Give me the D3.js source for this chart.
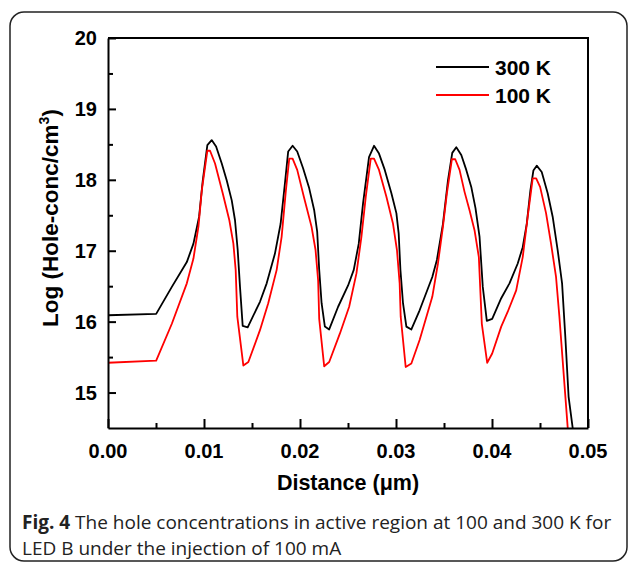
<!DOCTYPE html>
<html>
<head>
<meta charset="utf-8">
<script src="https://cdn.jsdelivr.net/npm/d3@7"></script>
<style>
  body { margin: 0; background: #fff; }
  svg { display: block; }
</style>
</head>
<body>
<div id="chart"></div>
<script>
// distance (um) and log hole concentration
var x300 = [0.0000, 0.00502, 0.00665, 0.00821, 0.0089, 0.00949, 0.00987, 0.01035, 0.0108, 0.01126, 0.01185, 0.01237, 0.01289, 0.01323, 0.01351, 0.01375, 0.01403, 0.01455,
    0.01583, 0.01653, 0.01739, 0.01798, 0.01843, 0.01877, 0.01923, 0.01971, 0.02033, 0.02096, 0.02148, 0.02179, 0.022, 0.02225, 0.02259, 0.02304,
    0.02397, 0.02501, 0.0256, 0.02612, 0.02657, 0.02719, 0.02771, 0.02823, 0.02883, 0.02952, 0.03004, 0.03028, 0.03046, 0.03073, 0.03108, 0.0316,
    0.03246, 0.03378, 0.03426, 0.03489, 0.03541, 0.03586, 0.03628, 0.0368, 0.03732, 0.03784, 0.03828, 0.0387, 0.03904, 0.03946, 0.04002,
    0.04096, 0.04182, 0.04268, 0.0432, 0.04362, 0.044, 0.04431, 0.04466, 0.04518, 0.0458, 0.04632, 0.04684, 0.0473, 0.04764, 0.04798, 0.0486];
var y300 = [16.09, 16.11, 16.49, 16.84, 17.10, 17.48, 17.99, 18.49, 18.56, 18.47, 18.23, 17.99, 17.71, 17.43, 17.01, 16.49, 15.94, 15.92,
    16.28, 16.54, 16.96, 17.38, 17.95, 18.40, 18.48, 18.40, 18.16, 17.88, 17.57, 17.27, 16.73, 16.26, 15.93, 15.89,
    16.21, 16.51, 16.73, 17.10, 17.67, 18.32, 18.48, 18.37, 18.14, 17.81, 17.53, 17.24, 16.73, 16.26, 15.93, 15.89,
    16.16, 16.63, 16.87, 17.38, 17.99, 18.38, 18.46, 18.35, 18.14, 17.90, 17.60, 17.20, 16.49, 16.01, 16.04,
    16.33, 16.54, 16.82, 17.05, 17.38, 17.85, 18.13, 18.20, 18.11, 17.81, 17.48, 17.01, 16.54, 15.78, 14.94, 14.3];

var x100 = [0.0000, 0.00502, 0.00665, 0.00821, 0.0089, 0.00942, 0.00977, 0.01035, 0.01063, 0.01115, 0.01195, 0.01264, 0.01306, 0.0133, 0.01347, 0.0141, 0.01462,
    0.01583, 0.01669, 0.01757, 0.01809, 0.01853, 0.01888, 0.01923, 0.01971, 0.0204, 0.0212, 0.02162, 0.02189, 0.022, 0.02252, 0.02304,
    0.02415, 0.02512, 0.02588, 0.0264, 0.02685, 0.02737, 0.02771, 0.02823, 0.029, 0.02969, 0.0301, 0.03038, 0.03049, 0.03101, 0.0316,
    0.03246, 0.03378, 0.03437, 0.03489, 0.0353, 0.03582, 0.03617, 0.03662, 0.03714, 0.03766, 0.03818, 0.03863, 0.03894, 0.0395, 0.04002,
    0.04096, 0.04164, 0.04252, 0.0432, 0.04372, 0.04424, 0.0446, 0.04501, 0.04563, 0.04615, 0.04667, 0.04702, 0.04744, 0.048];
var y100 = [15.42, 15.45, 15.97, 16.54, 16.89, 17.34, 17.85, 18.41, 18.41, 18.23, 17.81, 17.43, 17.10, 16.73, 16.07, 15.38, 15.43,
    15.88, 16.26, 16.73, 17.20, 17.85, 18.30, 18.30, 18.14, 17.76, 17.34, 17.01, 16.58, 16.04, 15.37, 15.43,
    15.83, 16.21, 16.68, 17.20, 17.76, 18.30, 18.30, 18.14, 17.76, 17.38, 17.01, 16.54, 16.07, 15.36, 15.41,
    15.74, 16.35, 16.82, 17.34, 17.81, 18.29, 18.29, 18.14, 17.83, 17.57, 17.29, 16.91, 15.97, 15.42, 15.55,
    15.93, 16.14, 16.44, 16.91, 17.48, 18.02, 18.02, 17.90, 17.53, 17.10, 16.63, 16.07, 15.31, 14.3];

var xTicks = [0, 0.01, 0.02, 0.03, 0.04, 0.05];
var yTicks = [15, 16, 17, 18, 19, 20];
var seriesNames = ["300 K", "100 K"];
var seriesColors = ["#000000", "#ff0000"];

var width = 629, height = 563;
var margin = {top: 38, right: 41, bottom: 135, left: 108};

var svg = d3.select("#chart").append("svg")
    .attr("width", width)
    .attr("height", height);

// outer rounded frame of the figure
svg.append("rect")
    .attr("x", 10).attr("y", 12)
    .attr("width", 617).attr("height", 549)
    .attr("rx", 14)
    .attr("fill", "none")
    .attr("stroke", "#222")
    .attr("stroke-width", 1.5);

var x = d3.scaleLinear().domain([0, 0.05]).range([margin.left, width - margin.right]);
var y = d3.scaleLinear().domain([14.5, 20]).range([height - margin.bottom, margin.top]);

svg.append("clipPath").attr("id", "plotclip")
    .append("rect")
    .attr("x", x(0)).attr("y", y(20))
    .attr("width", x(0.05) - x(0)).attr("height", y(14.5) - y(20));

var line = d3.line()
    .x(function(d) { return x(d[0]); })
    .y(function(d) { return y(d[1]); });

var series = [d3.zip(x300, y300), d3.zip(x100, y100)];

svg.append("g").attr("clip-path", "url(#plotclip)")
    .selectAll("path")
    .data(series)
    .enter()
    .append("path")
    .attr("d", line)
    .attr("fill", "none")
    .attr("stroke", function(d, i) { return seriesColors[i]; })
    .attr("stroke-width", 1.8)
    .attr("stroke-linejoin", "round");

// axes, ticks pointing inwards
var xAxis = svg.append("g")
    .attr("transform", "translate(0," + y(14.5) + ")")
    .call(d3.axisBottom(x).tickValues(d3.range(0, 0.0501, 0.005)).tickSize(-9).tickSizeOuter(0).tickFormat(""));
xAxis.selectAll(".tick line")
    .attr("y2", function(d, i) { return i % 2 ? -5 : -9; });

var yAxis = svg.append("g")
    .attr("transform", "translate(" + x(0) + ",0)")
    .call(d3.axisLeft(y).tickValues(d3.range(15, 20.01, 0.5)).tickSize(-8).tickSizeOuter(0).tickFormat(""));
yAxis.selectAll(".tick line")
    .attr("x2", function(d, i) { return i % 2 ? 5 : 8; });

svg.selectAll(".domain, .tick line")
    .attr("stroke", "#000")
    .attr("stroke-width", 2);

// top and right frame lines
svg.append("path")
    .attr("d", "M" + x(0) + "," + y(20) + "H" + x(0.05) + "V" + y(14.5))
    .attr("fill", "none")
    .attr("stroke", "#000")
    .attr("stroke-width", 2);

var labelFont = "'Liberation Sans', Arial, sans-serif";

svg.selectAll(".xlab")
    .data(xTicks)
    .enter()
    .append("text")
    .attr("x", function(d) { return x(d); })
    .attr("y", 458)
    .attr("text-anchor", "middle")
    .style("font-family", labelFont)
    .style("font-weight", "bold")
    .style("font-size", "20px")
    .text(function(d) { return d3.format(".2f")(d); });

svg.selectAll(".ylab")
    .data(yTicks)
    .enter()
    .append("text")
    .attr("x", 97)
    .attr("y", function(d) { return y(d) + 7; })
    .attr("text-anchor", "end")
    .style("font-family", labelFont)
    .style("font-weight", "bold")
    .style("font-size", "20px")
    .text(function(d) { return d; });

svg.append("text")
    .attr("x", (x(0) + x(0.05)) / 2)
    .attr("y", 490)
    .attr("text-anchor", "middle")
    .style("font-family", labelFont)
    .style("font-weight", "bold")
    .style("font-size", "21.5px")
    .text("Distance (\u03bcm)");

var yt = svg.append("text")
    .attr("transform", "translate(58,218) rotate(-90)")
    .attr("text-anchor", "middle")
    .style("font-family", labelFont)
    .style("font-weight", "bold")
    .style("font-size", "22.5px");
yt.append("tspan").text("Log (Hole-conc/cm");
yt.append("tspan").attr("dy", -9).style("font-size", "14px").text("3");
yt.append("tspan").attr("dy", 9).text(")");

// legend
var legend = svg.selectAll(".legend")
    .data(seriesNames)
    .enter()
    .append("g")
    .attr("transform", function(d, i) { return "translate(0," + (67 + i * 28) + ")"; });
legend.append("line")
    .attr("x1", 436).attr("x2", 489)
    .attr("stroke", function(d, i) { return seriesColors[i]; })
    .attr("stroke-width", 1.8);
legend.append("text")
    .attr("x", 495)
    .attr("y", 7.5)
    .style("font-family", labelFont)
    .style("font-weight", "bold")
    .style("font-size", "21px")
    .text(function(d) { return d; });

// caption
var capFont = "'Open Sans', 'Noto Sans', sans-serif";
var cap1 = svg.append("text")
    .attr("x", 22).attr("y", 529)
    .style("font-family", capFont)
    .style("font-size", "19px")
    .attr("fill", "#222");
cap1.append("tspan").style("font-weight", "bold").text("Fig. 4");
cap1.append("tspan").text(" The hole concentrations in active region at 100 and 300 K for");
svg.append("text")
    .attr("x", 22).attr("y", 555)
    .style("font-family", capFont)
    .style("font-size", "19px")
    .attr("fill", "#222")
    .text("LED B under the injection of 100 mA");
</script>
</body>
</html>
